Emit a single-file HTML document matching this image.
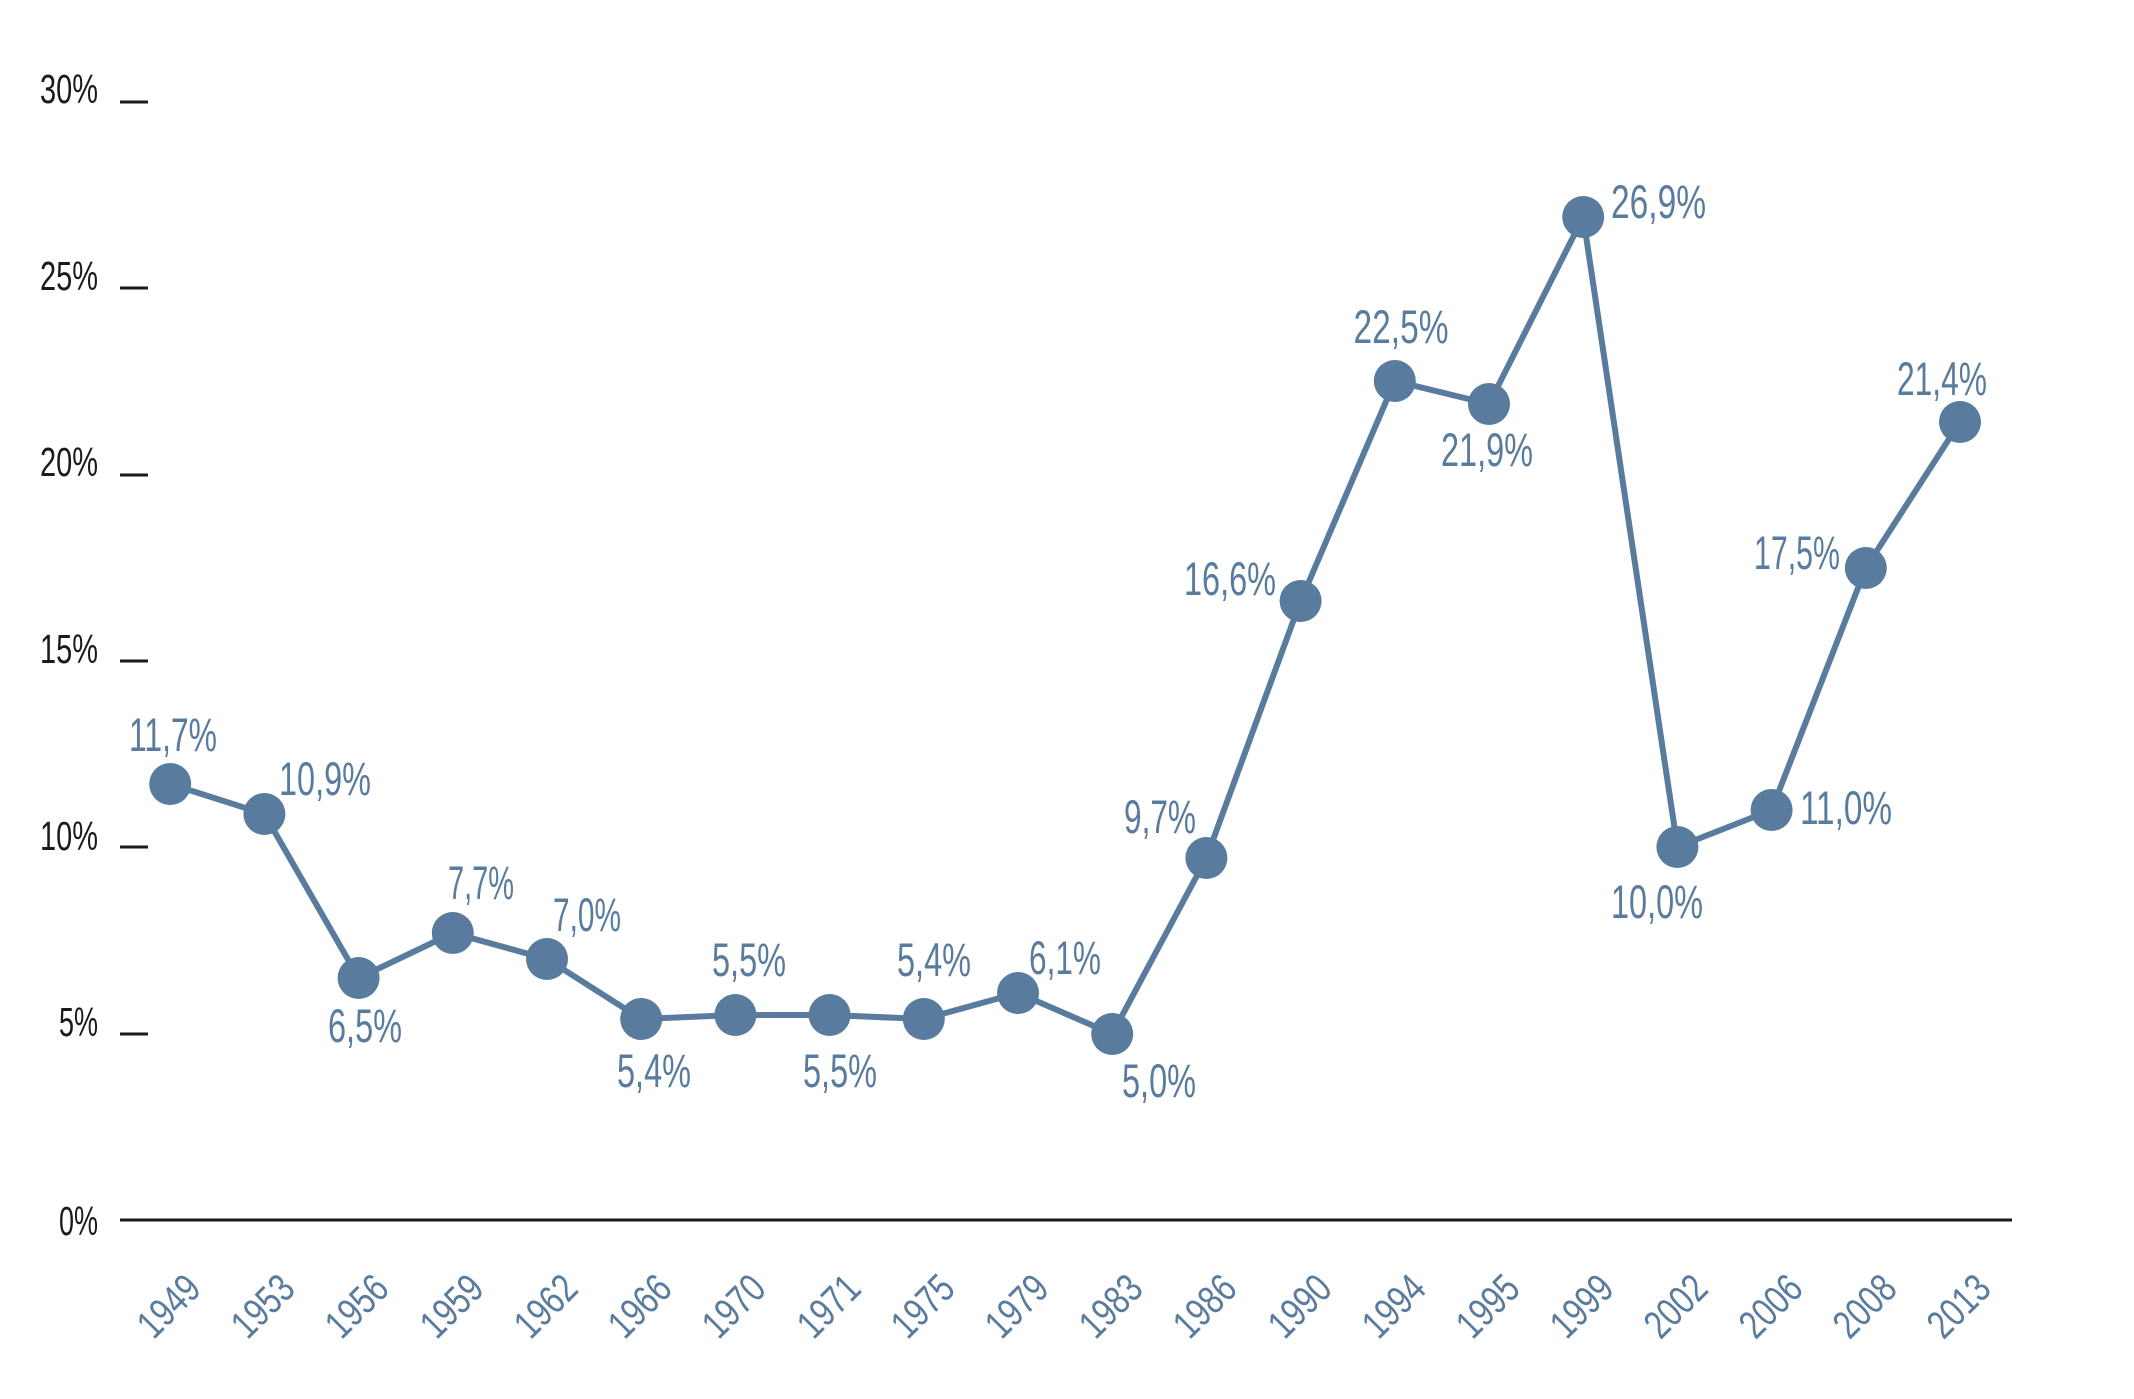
<!DOCTYPE html>
<html><head><meta charset="utf-8"><style>html,body{margin:0;padding:0;background:#fff}</style></head>
<body>
<svg width="2134" height="1394" viewBox="0 0 2134 1394" xmlns="http://www.w3.org/2000/svg" font-family="'Liberation Sans',sans-serif">
<g fill="#1a1a1a" font-size="41" text-anchor="end">
<text x="98" y="103" textLength="58" lengthAdjust="spacingAndGlyphs">30%</text>
<text x="98" y="290" textLength="58" lengthAdjust="spacingAndGlyphs">25%</text>
<text x="98" y="476" textLength="58" lengthAdjust="spacingAndGlyphs">20%</text>
<text x="98" y="663" textLength="58" lengthAdjust="spacingAndGlyphs">15%</text>
<text x="98" y="850" textLength="58" lengthAdjust="spacingAndGlyphs">10%</text>
<text x="98" y="1036" textLength="39" lengthAdjust="spacingAndGlyphs">5%</text>
<text x="98" y="1235" textLength="39" lengthAdjust="spacingAndGlyphs">0%</text>
</g>
<g stroke="#1a1a1a" stroke-width="3">
<line x1="120" y1="102" x2="148" y2="102"/>
<line x1="120" y1="288" x2="148" y2="288"/>
<line x1="120" y1="475" x2="148" y2="475"/>
<line x1="120" y1="661" x2="148" y2="661"/>
<line x1="120" y1="847" x2="148" y2="847"/>
<line x1="120" y1="1034" x2="148" y2="1034"/>
<line x1="120" y1="1220" x2="2012" y2="1220"/>
</g>
<polyline fill="none" stroke="#587b9e" stroke-width="6" stroke-linejoin="round" points="170.2,784 264.4,814 358.6,978 452.8,933 547,959 641.2,1019 735.4,1015 829.6,1015 923.8,1019 1018,993 1112.2,1034 1206.4,858 1300.6,601 1394.8,381 1489,404 1583.2,217 1677.4,847 1771.6,810 1865.8,568 1960,422"/>
<g fill="#587b9e">
<circle cx="170.2" cy="784" r="21"/><circle cx="264.4" cy="814" r="21"/><circle cx="358.6" cy="978" r="21"/><circle cx="452.8" cy="933" r="21"/><circle cx="547" cy="959" r="21"/><circle cx="641.2" cy="1019" r="21"/><circle cx="735.4" cy="1015" r="21"/><circle cx="829.6" cy="1015" r="21"/><circle cx="923.8" cy="1019" r="21"/><circle cx="1018" cy="993" r="21"/><circle cx="1112.2" cy="1034" r="21"/><circle cx="1206.4" cy="858" r="21"/><circle cx="1300.6" cy="601" r="21"/><circle cx="1394.8" cy="381" r="21"/><circle cx="1489" cy="404" r="21"/><circle cx="1583.2" cy="217" r="21"/><circle cx="1677.4" cy="847" r="21"/><circle cx="1771.6" cy="810" r="21"/><circle cx="1865.8" cy="568" r="21"/><circle cx="1960" cy="422" r="21"/>
</g>
<g fill="#587b9e" font-size="47" text-anchor="middle">
<text x="173" y="751" textLength="88" lengthAdjust="spacingAndGlyphs">11,7%</text>
<text x="279" y="795" text-anchor="start" textLength="92" lengthAdjust="spacingAndGlyphs">10,9%</text>
<text x="365" y="1042" textLength="74" lengthAdjust="spacingAndGlyphs">6,5%</text>
<text x="481" y="899" textLength="66" lengthAdjust="spacingAndGlyphs">7,7%</text>
<text x="587" y="931" textLength="68" lengthAdjust="spacingAndGlyphs">7,0%</text>
<text x="654" y="1087" textLength="74" lengthAdjust="spacingAndGlyphs">5,4%</text>
<text x="749" y="976" textLength="74" lengthAdjust="spacingAndGlyphs">5,5%</text>
<text x="840" y="1087" textLength="74" lengthAdjust="spacingAndGlyphs">5,5%</text>
<text x="934" y="976" textLength="74" lengthAdjust="spacingAndGlyphs">5,4%</text>
<text x="1065" y="974" textLength="72" lengthAdjust="spacingAndGlyphs">6,1%</text>
<text x="1159" y="1097" textLength="74" lengthAdjust="spacingAndGlyphs">5,0%</text>
<text x="1160" y="833" textLength="72" lengthAdjust="spacingAndGlyphs">9,7%</text>
<text x="1230" y="595" textLength="92" lengthAdjust="spacingAndGlyphs">16,6%</text>
<text x="1401" y="343" textLength="95" lengthAdjust="spacingAndGlyphs">22,5%</text>
<text x="1487" y="466" textLength="92" lengthAdjust="spacingAndGlyphs">21,9%</text>
<text x="1611" y="218" text-anchor="start" textLength="95" lengthAdjust="spacingAndGlyphs">26,9%</text>
<text x="1657" y="918" textLength="92" lengthAdjust="spacingAndGlyphs">10,0%</text>
<text x="1800" y="824" text-anchor="start" textLength="92" lengthAdjust="spacingAndGlyphs">11,0%</text>
<text x="1797" y="569" textLength="86" lengthAdjust="spacingAndGlyphs">17,5%</text>
<text x="1942" y="395" textLength="90" lengthAdjust="spacingAndGlyphs">21,4%</text>
</g>
<g fill="#587b9e" font-size="40" text-anchor="end">
<text transform="translate(203,1291) rotate(-45)" textLength="70" lengthAdjust="spacingAndGlyphs">1949</text>
<text transform="translate(297,1291) rotate(-45)" textLength="70" lengthAdjust="spacingAndGlyphs">1953</text>
<text transform="translate(391,1291) rotate(-45)" textLength="70" lengthAdjust="spacingAndGlyphs">1956</text>
<text transform="translate(486,1291) rotate(-45)" textLength="70" lengthAdjust="spacingAndGlyphs">1959</text>
<text transform="translate(580,1291) rotate(-45)" textLength="70" lengthAdjust="spacingAndGlyphs">1962</text>
<text transform="translate(674,1291) rotate(-45)" textLength="70" lengthAdjust="spacingAndGlyphs">1966</text>
<text transform="translate(768,1291) rotate(-45)" textLength="70" lengthAdjust="spacingAndGlyphs">1970</text>
<text transform="translate(863,1291) rotate(-45)" textLength="70" lengthAdjust="spacingAndGlyphs">1971</text>
<text transform="translate(957,1291) rotate(-45)" textLength="70" lengthAdjust="spacingAndGlyphs">1975</text>
<text transform="translate(1051,1291) rotate(-45)" textLength="70" lengthAdjust="spacingAndGlyphs">1979</text>
<text transform="translate(1145,1291) rotate(-45)" textLength="70" lengthAdjust="spacingAndGlyphs">1983</text>
<text transform="translate(1239,1291) rotate(-45)" textLength="70" lengthAdjust="spacingAndGlyphs">1986</text>
<text transform="translate(1334,1291) rotate(-45)" textLength="70" lengthAdjust="spacingAndGlyphs">1990</text>
<text transform="translate(1428,1291) rotate(-45)" textLength="70" lengthAdjust="spacingAndGlyphs">1994</text>
<text transform="translate(1522,1291) rotate(-45)" textLength="70" lengthAdjust="spacingAndGlyphs">1995</text>
<text transform="translate(1616,1291) rotate(-45)" textLength="70" lengthAdjust="spacingAndGlyphs">1999</text>
<text transform="translate(1710,1291) rotate(-45)" textLength="70" lengthAdjust="spacingAndGlyphs">2002</text>
<text transform="translate(1805,1291) rotate(-45)" textLength="70" lengthAdjust="spacingAndGlyphs">2006</text>
<text transform="translate(1899,1291) rotate(-45)" textLength="70" lengthAdjust="spacingAndGlyphs">2008</text>
<text transform="translate(1993,1291) rotate(-45)" textLength="70" lengthAdjust="spacingAndGlyphs">2013</text>
</g>
</svg>
</body></html>
